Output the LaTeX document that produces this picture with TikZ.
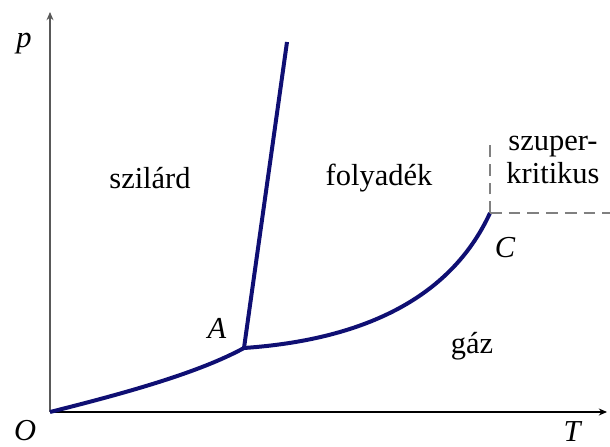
\documentclass[tikz,border=0pt]{standalone}
\usepackage{fontspec}
\setmainfont{Liberation Serif}
\usetikzlibrary{positioning, arrows.meta}
\definecolor{phase}{rgb}{0.06,0.06,0.45}
\definecolor{axisgray}{rgb}{0.35,0.35,0.35}
\tikzset{
    >={Stealth[length=7pt, width=6pt]}, % small arrowheads
    axis/.style={->, line width=1.8pt}, % the two axes
    phaseline/.style={line width=3.4pt, color=phase}, % phase boundaries
    critline/.style={line width=1.7pt, color=gray, dash pattern=on 10pt off 6pt},
    region/.style={font=\fontsize{26}{28}\selectfont, inner sep=0pt},
    pointlabel/.style={font=\itshape\fontsize{26}{28}\selectfont, inner sep=0pt},
}

\begin{document}
\begin{tikzpicture}[x=0.03cm, y=-0.03cm]
    \useasboundingbox (0,0) rectangle (610,447);

    % points of the diagram
    \coordinate (O) at (50,412);
    \coordinate (pend) at (50,12);
    \coordinate (Tend) at (607,412);
    \coordinate (A) at (244,348);
    \coordinate (melt) at (287,42);
    \coordinate (C) at (490,213);
    \coordinate (cup) at (490,140);
    \coordinate (cright) at (610,213);

    % axes
    \draw[axis, color=axisgray] (O) -- (pend);
    \draw[axis, color=black] (O) -- (Tend);

    % phase boundaries
    \draw[phaseline] (O) .. controls (130,392) and (200,372) .. (A);
    \draw[phaseline] (A) -- (melt);
    \draw[phaseline] (A) .. controls (360,340) and (450,300) .. (C);

    % supercritical region
    \draw[critline] (C) -- (cup);
    \draw[critline] (C) -- (cright);

    % labels
    \node[pointlabel] (plab) at (24,44) {p};
    \node[pointlabel] (olab) at (25,431) {O};
    \node[pointlabel] (tlab) at (572,432) {T};
    \node[pointlabel] (alab) at (217,328) {A};
    \node[pointlabel] (clab) at (505,248) {C};

    \node[region] (solid) at (150,178) {szilárd};
    \node[region] (liquid) at (379,178) {folyadék};
    \node[region] (gas) at (472,346) {gáz};
    \node[region, align=center] (super) at (553,160) {szuper-\\kritikus};
\end{tikzpicture}
\end{document}
